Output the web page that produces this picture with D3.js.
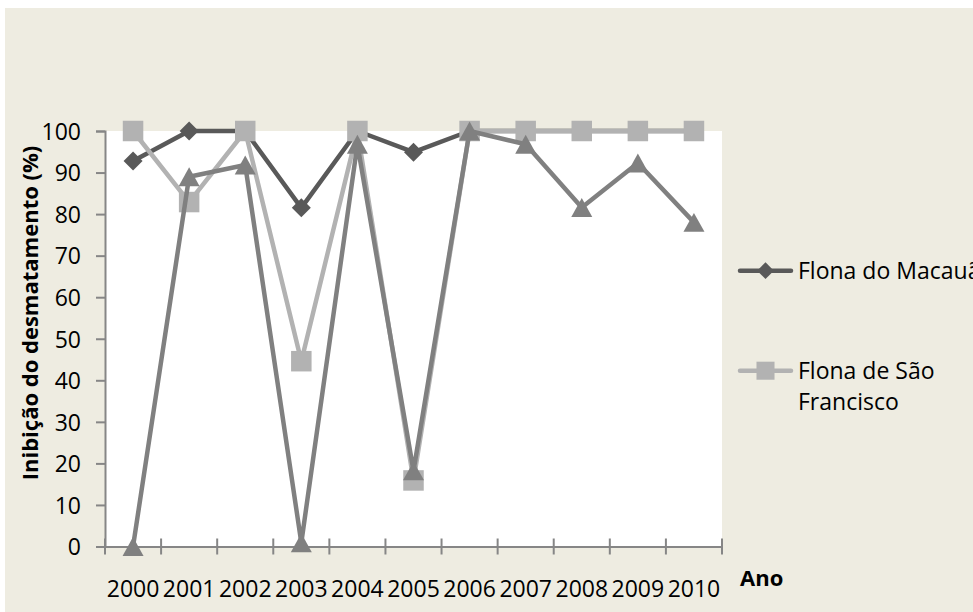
<!DOCTYPE html>
<html>
<head>
<meta charset="utf-8">
<script src="https://cdn.jsdelivr.net/npm/d3@7"></script>
<style>
  body { margin: 0; background: #fff; }
  text { font-family: "Open Sans", sans-serif; fill: #000; }
</style>
</head>
<body>
<div id="chart"></div>
<script>
// data
var years = ["2000", "2001", "2002", "2003", "2004", "2005", "2006", "2007", "2008", "2009", "2010"];
var macaua = [92.8, 100, 100, 81.5, 100, 94.9, 100, 100, 100, 100, 100];
var saoFrancisco = [100, 82.9, 100, 44.6, 100, 15.9, 100, 100, 100, 100, 100];
var terceira = [0, 89, 91.8, 0.9, 96.8, 18.2, 100, 96.8, 81.6, 92.3, 78];
var yTicks = [0, 10, 20, 30, 40, 50, 60, 70, 80, 90, 100];
var seriesNames = ["Flona do Macauã", "Flona de São\nFrancisco", ""];

var W = 973, H = 612;
var margin = { top: 131, bottom: 65.5, left: 105, right: 251 };
var width = W - margin.left - margin.right;
var height = H - margin.top - margin.bottom;

var svg = d3.select("#chart").append("svg")
    .attr("width", W)
    .attr("height", H);

// chart area background
svg.append("rect")
    .attr("x", 5).attr("y", 8)
    .attr("width", W - 5).attr("height", H - 8)
    .attr("fill", "#eeece1");

var g = svg.append("g")
    .attr("transform", "translate(" + margin.left + "," + margin.top + ")");

g.append("rect")
    .attr("width", width).attr("height", height)
    .attr("fill", "#fff");

var xScale = d3.scaleBand()
    .domain(years)
    .range([0, width])
    .padding(0);

var yScale = d3.scaleLinear()
    .domain([0, 100])
    .range([height, 0]);

var cx = function(d, i) { return xScale(years[i]) + xScale.bandwidth() / 2; };

// Y axis
var yAxis = g.append("g")
    .call(d3.axisLeft(yScale).tickValues(yTicks).tickSize(9).tickPadding(15));
yAxis.select(".domain").attr("stroke", "#868686").attr("stroke-width", 2);
yAxis.selectAll(".tick line").attr("stroke", "#868686").attr("stroke-width", 2);
yAxis.selectAll("text")
    .attr("font-family", "Open Sans, sans-serif")
    .attr("font-size", 23)
    .attr("dy", "0.36em");

// X axis (labels centered, ticks on category boundaries)
var xAxis = g.append("g")
    .attr("transform", "translate(0," + height + ")")
    .call(d3.axisBottom(xScale).tickSize(0).tickPadding(34));
xAxis.select(".domain").attr("stroke", "#868686").attr("stroke-width", 2);
xAxis.selectAll("text")
    .attr("font-family", "Open Sans, sans-serif")
    .attr("font-size", 23);

var bounds = years.map(function(d) { return xScale(d); }).concat([width]);
xAxis.selectAll(".xb")
    .data(bounds)
    .enter().append("line")
    .attr("x1", function(d) { return d; })
    .attr("x2", function(d) { return d; })
    .attr("y1", -8).attr("y2", 8)
    .attr("stroke", "#868686")
    .attr("stroke-width", 2);

// axis titles
svg.append("text")
    .attr("transform", "translate(38,313) rotate(-90)")
    .attr("text-anchor", "middle")
    .attr("font-size", 22)
    .attr("font-weight", "bold")
    .text("Inibição do desmatamento (%)");

svg.append("text")
    .attr("x", 740)
    .attr("y", 578)
    .attr("dy", "0.36em")
    .attr("font-size", 22)
    .attr("font-weight", "bold")
    .text("Ano");

// marker shapes, centred on their bounding box like Excel does
function marker(type, s) {
    var h = s / 2;
    if (type === "diamond") {
        return "M0," + (-h) + "L" + h + ",0L0," + h + "L" + (-h) + ",0Z";
    }
    if (type === "square") {
        return "M" + (-h) + "," + (-h) + "H" + h + "V" + h + "H" + (-h) + "Z";
    }
    var th = s * 0.9 / 2;
    return "M0," + (-th) + "L" + h + "," + th + "L" + (-h) + "," + th + "Z";
}

// series
var series = [
    { values: macaua, color: "#595959", shape: "diamond", size: 19 },
    { values: saoFrancisco, color: "#b2b2b2", shape: "square", size: 20.5 },
    { values: terceira, color: "#808080", shape: "triangle", size: 21 }
];

var line = d3.line()
    .x(cx)
    .y(function(d) { return yScale(d); });

series.forEach(function(s) {
    g.append("path")
        .datum(s.values)
        .attr("d", line)
        .attr("fill", "none")
        .attr("stroke", s.color)
        .attr("stroke-width", 4.5)
        .attr("stroke-linejoin", "round");

    g.selectAll(null)
        .data(s.values)
        .enter().append("path")
        .attr("d", marker(s.shape, s.size))
        .attr("transform", function(d, i) {
            return "translate(" + cx(d, i) + "," + yScale(d) + ")";
        })
        .attr("fill", s.color);
});

// legend (third entry falls outside the picture)
var legendY = [270.7, 370.7];
var legend = svg.append("g")
    .selectAll("g")
    .data(series.slice(0, 2))
    .enter().append("g")
    .attr("transform", function(d, i) { return "translate(738," + legendY[i] + ")"; });

legend.append("line")
    .attr("x1", 2).attr("x2", 53)
    .attr("stroke", function(d) { return d.color; })
    .attr("stroke-width", 4.5)
    .attr("stroke-linecap", "round");

legend.append("path")
    .attr("transform", "translate(27.5,0)")
    .attr("d", function(d) { return marker(d.shape, d.size * 0.88); })
    .attr("fill", function(d) { return d.color; });

legend.append("text")
    .attr("x", 60)
    .attr("font-size", 23)
    .selectAll("tspan")
    .data(function(d, i) { return seriesNames[i].split("\n"); })
    .enter().append("tspan")
    .attr("x", 60)
    .attr("y", function(d, j) { return j * 31.5; })
    .attr("dy", "0.36em")
    .text(function(d) { return d; });
</script>
</body>
</html>
